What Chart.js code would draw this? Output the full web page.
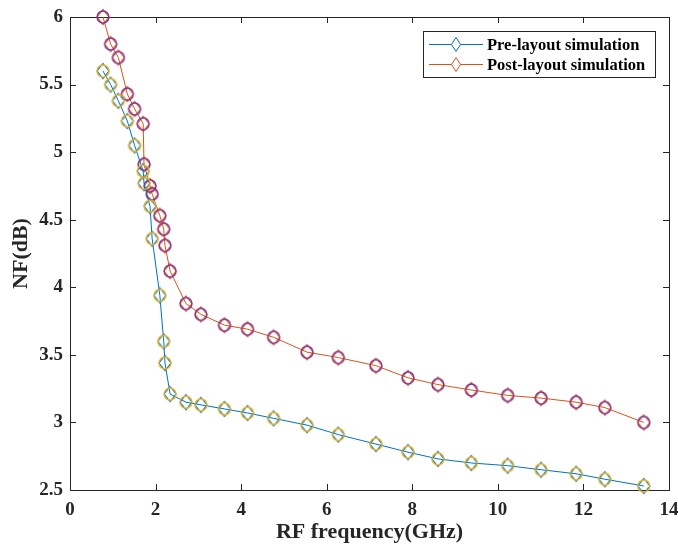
<!DOCTYPE html>
<html><head><meta charset="utf-8">
<script src="https://cdn.jsdelivr.net/npm/chart.js@4/dist/chart.umd.min.js"></script>
<style>html,body{margin:0;padding:0;background:#fff}</style>
</head><body>
<canvas id="c" width="678" height="546"></canvas>
<script>
// ---- data ----
const freqGHz = [0.77,0.95,1.13,1.34,1.51,1.71,1.73,1.87,1.92,2.10,2.19,2.22,2.34,2.71,3.06,3.61,4.15,4.76,5.54,6.27,7.15,7.90,8.60,9.38,10.23,11.01,11.83,12.50,13.41];
const preLayoutNF = [5.60,5.50,5.38,5.23,5.05,4.86,4.77,4.60,4.36,3.94,3.60,3.44,3.21,3.15,3.13,3.10,3.07,3.03,2.98,2.91,2.84,2.78,2.73,2.70,2.68,2.65,2.62,2.58,2.53];
const postLayoutNF = [6.00,5.80,5.70,5.43,5.32,5.21,4.91,4.75,4.69,4.53,4.43,4.31,4.12,3.88,3.80,3.72,3.69,3.63,3.52,3.48,3.42,3.33,3.28,3.24,3.20,3.18,3.15,3.11,3.00];
const xTickValues = [0,2,4,6,8,10,12,14];
const yTickValues = [2.5,3,3.5,4,4.5,5,5.5,6];
const seriesNames = ['Pre-layout simulation','Post-layout simulation'];
const xTitle = 'RF frequency(GHz)';
const yTitle = 'NF(dB)';

// ---- styling ----
const FONT = 'Liberation Serif';
const TXT = '#262626';
const BLUE = '#0072BD', ORANGE = '#D95319', YELLOW = '#EDB120', PURPLE = '#7E2F8E';

function makeMarker(lineColor, ringColor, hw, hh, r) {
  const w = 20, h = 20;
  const c = document.createElement('canvas'); c.width = w; c.height = h;
  const g = c.getContext('2d'); const cx = w/2, cy = h/2;
  g.lineWidth = 1.1; g.strokeStyle = lineColor;
  g.beginPath(); g.moveTo(cx, cy-hh); g.lineTo(cx+hw, cy); g.lineTo(cx, cy+hh); g.lineTo(cx-hw, cy); g.closePath(); g.stroke();
  if (ringColor) { g.strokeStyle = ringColor; g.lineWidth = 1.3; g.beginPath(); g.arc(cx, cy, r, 0, Math.PI*2); g.stroke(); }
  return c;
}
const preMarker = makeMarker(BLUE, YELLOW, 6, 7.5, 6);
const postMarker = makeMarker(ORANGE, PURPLE, 6, 7.5, 6);

const toPts = ys => freqGHz.map((f, i) => ({x: f, y: ys[i]}));

const boxPlugin = {
  id: 'box',
  beforeDatasetsDraw(chart) {
    const {ctx, chartArea: a, scales: {x, y}} = chart;
    ctx.save();
    ctx.strokeStyle = TXT; ctx.lineWidth = 1;
    ctx.strokeRect(Math.round(a.left)+0.5, Math.round(a.top)+0.5, Math.round(a.right-a.left), Math.round(a.bottom-a.top));
    const TL = 6;
    ctx.beginPath();
    xTickValues.forEach(v => {
      const px = Math.round(x.getPixelForValue(v)) + 0.5;
      ctx.moveTo(px, a.bottom); ctx.lineTo(px, a.bottom - TL);
      ctx.moveTo(px, a.top); ctx.lineTo(px, a.top + TL);
    });
    yTickValues.forEach(v => {
      const py = Math.round(y.getPixelForValue(v)) + 0.5;
      ctx.moveTo(a.left, py); ctx.lineTo(a.left + TL, py);
      ctx.moveTo(a.right, py); ctx.lineTo(a.right - TL, py);
    });
    ctx.stroke();
    ctx.restore();
  }
};

const legendPlugin = {
  id: 'mlegend',
  afterDraw(chart) {
    const {ctx} = chart;
    const bx = 423.5, by = 31.5, bw = 232, bh = 46;
    ctx.save();
    ctx.fillStyle = '#fff'; ctx.fillRect(bx, by, bw, bh);
    ctx.strokeStyle = TXT; ctx.lineWidth = 1; ctx.strokeRect(bx, by, bw, bh);
    const rows = [44, 64];
    const cols = [BLUE, ORANGE];
    chart.data.datasets.forEach((ds, i) => {
      const yy = rows[i] + 0.5;
      ctx.strokeStyle = cols[i]; ctx.lineWidth = 1;
      ctx.beginPath(); ctx.moveTo(429, yy); ctx.lineTo(483, yy); ctx.stroke();
      ctx.fillStyle = '#fff';
      ctx.beginPath(); ctx.moveTo(456, yy-7); ctx.lineTo(460.5, yy); ctx.lineTo(456, yy+7); ctx.lineTo(451.5, yy); ctx.closePath(); ctx.fill(); ctx.stroke();
      ctx.fillStyle = '#000'; ctx.font = 'bold 16.5px "' + FONT + '"';
      ctx.textBaseline = 'middle'; ctx.textAlign = 'left';
      ctx.fillText(ds.label, 487, yy + 1);
    });
    ctx.restore();
  }
};

const tickFont = {family: FONT, size: 19, weight: 'bold'};
const titleFont = {family: FONT, size: 22, weight: 'bold'};

new Chart(document.getElementById('c'), {
  type: 'scatter',
  data: {
    datasets: [
      {label: seriesNames[0], data: toPts(preLayoutNF), showLine: true, borderColor: BLUE, borderWidth: 1, pointStyle: preMarker, pointRadius: 7, clip: false},
      {label: seriesNames[1], data: toPts(postLayoutNF), showLine: true, borderColor: ORANGE, borderWidth: 1, pointStyle: postMarker, pointRadius: 7, clip: false}
    ]
  },
  options: {
    responsive: false,
    animation: false,
    events: [],
    layout: {padding: {top: 17, right: 9, left: 0, bottom: 0}},
    plugins: {legend: {display: false}, tooltip: {enabled: false}},
    scales: {
      x: {
        type: 'linear', min: 0, max: 14,
        afterBuildTicks: s => { s.ticks = xTickValues.map(v => ({value: v})); },
        afterFit: s => { s.height = 56; s.paddingLeft = 0; s.paddingRight = 0; },
        ticks: {font: tickFont, color: TXT, padding: 9, maxRotation: 0, autoSkip: false, callback: v => String(v)},
        grid: {display: false, drawTicks: false},
        border: {display: false},
        title: {display: true, text: xTitle, font: titleFont, color: TXT, padding: {top: 0, bottom: 0}}
      },
      y: {
        type: 'linear', min: 2.5, max: 6,
        afterBuildTicks: s => { s.ticks = yTickValues.map(v => ({value: v})); },
        afterFit: s => { s.width = 70; s.paddingTop = 0; s.paddingBottom = 0; },
        ticks: {font: tickFont, color: TXT, padding: 7, autoSkip: false, callback: v => String(v)},
        grid: {display: false, drawTicks: false},
        border: {display: false},
        title: {display: true, text: yTitle, font: titleFont, color: TXT, padding: {top: 8, bottom: 0}}
      }
    }
  },
  plugins: [boxPlugin, legendPlugin]
});
</script>
</body></html>
